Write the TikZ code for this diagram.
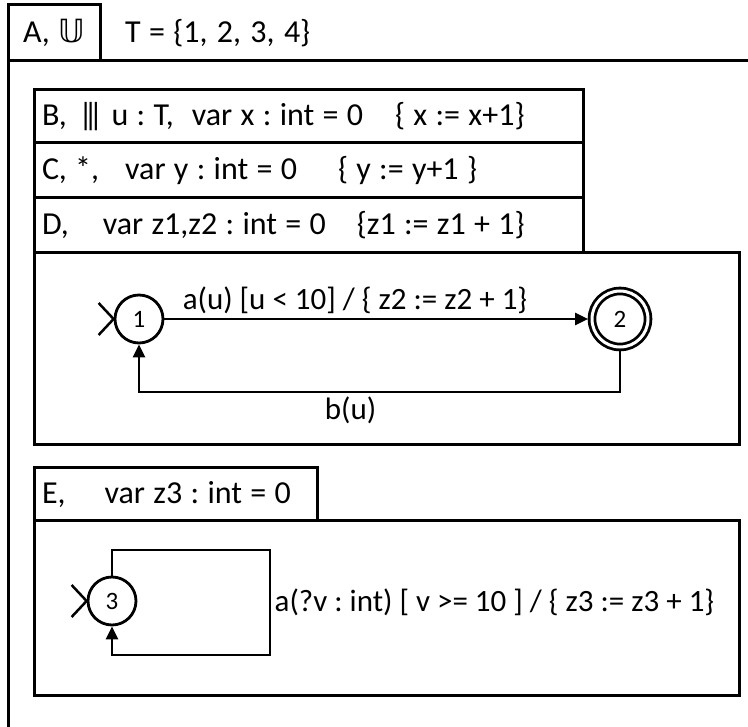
\documentclass[tikz,border=0pt]{standalone}
\usepackage{amssymb}
\usepackage{fontspec}
\setmainfont{Carlito}
\newfontfamily\symfont{DejaVu Sans}
\usetikzlibrary{arrows.meta}
\newcommand{\tribar}{|\kern-.3em|\kern-.3em|}
\newcommand{\hdrfont}{\fontsize{32}{36}\selectfont\frenchspacing\spaceskip=.26em\relax}
\tikzset{
	x=1pt, y=-1pt,
	every node/.style = {
		font=\fontsize{31}{36}\selectfont\frenchspacing
	},
	hdr/.style = {
		font=\hdrfont
	},
	box/.style = {
		hdr,
		draw,
		line width=3pt,
		anchor=north west,
		inner xsep=8pt,
		inner ysep=0pt,
		outer sep=0pt,
		align=flush left
	},
	state/.style = {
		circle,
		draw,
		line width=2.8pt,
		minimum size=48pt,
		inner sep=0pt,
		font=\fontsize{25}{30}\selectfont
	},
	accept/.style = {
		state,
		double,
		double distance=3pt,
		minimum size=56pt,
		outer sep=4pt
	},
	trans/.style = {
		line width=2.8pt,
		-{Triangle[length=13pt,width=12pt]}
	},
	init/.style = {
		line width=2.5pt
	}
}

\begin{document}
\begin{tikzpicture}
	\useasboundingbox (0,0) rectangle (748,727);
	\draw[line width=3pt] (8,61) rectangle (770,728);
	\node[box, align=center, minimum width=92pt, minimum height=56pt] (A) at (8,5) {A, {\symfont 𝕌}};
	\node[hdr, anchor=west, inner sep=0pt] (T) at (125,33) {T = \{1,\hspace{1pt} 2,\hspace{1pt} 3,\hspace{1pt} 4\}};
	\node[box, text width=533pt, minimum height=53pt] (B) at (34,90)
		{B,\hspace{3pt} \tribar{} u : T,\hspace{18pt}var x : int = 0\hspace{32pt}\{ x := x+1\}};
	\node[box, text width=533pt, minimum height=55pt] (C) at (34,143)
		{C, *,\hspace{26pt}var y : int = 0\hspace{41pt}\{ y := y+1 \}};
	\node[box, text width=533pt, minimum height=55pt] (D) at (34,198)
		{D,\hspace{34pt}var z1,z2 : int = 0\hspace{31pt}\{z1 := z1 + 1\}};
	\node[box, minimum width=705pt, minimum height=192pt] (Dbody) at (34,253) {};
	\node[state] (s1) at (139,319) {1};
	\node[accept] (s2) at (620,319) {2};
	\coordinate (r1) at (620,392);
	\draw[trans] (s1) -- node[above, pos=0.45] {a(u) [u < 10] / \{ z2 := z2 + 1\}} (s2);
	\draw[trans] (s2.south) -- (r1) -| node[below, pos=0.28] {b(u)} (s1.south);
	\draw[init] (s1.west) -- ++(-15,-16);
	\draw[init] (s1.west) -- ++(-15,16);
	\node[box, text width=267pt, minimum height=53pt] (E) at (34,468)
		{E,\hspace{39pt}var z3 : int = 0};
	\node[box, minimum width=705pt, minimum height=174pt] (Ebody) at (34,521) {};
	\node[state] (s3) at (112,601) {3};
	\coordinate (l1) at (270,550);
	\coordinate (l2) at (270,655);
	\draw[trans] (s3.north) |- (l1) -- node[right] {a(?v : int) [ v >= 10 ] / \{ z3 := z3 + 1\}} (l2) -| (s3.south);
	\draw[init] (s3.west) -- ++(-15,-16);
	\draw[init] (s3.west) -- ++(-15,16);
\end{tikzpicture}
\end{document}
